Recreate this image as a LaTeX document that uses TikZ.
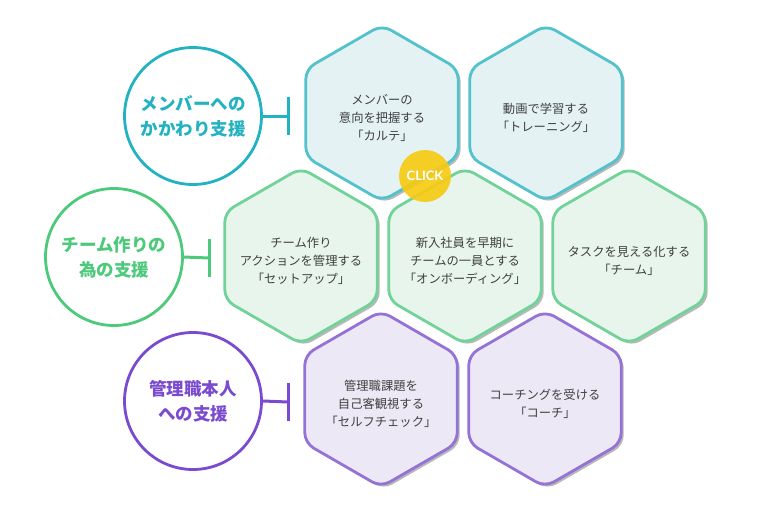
\documentclass[tikz,border=0pt]{standalone}
\usepackage{fontspec}
\newfontfamily\jp{Noto Sans CJK JP}
\newfontfamily\clickfont{Lato}
\usetikzlibrary{shapes.geometric,shadows}
\definecolor{tealC}{HTML}{22B2C1}
\definecolor{tealH}{HTML}{52C2CC}
\definecolor{tealF}{HTML}{E4F2F4}
\definecolor{greenC}{HTML}{4CC97A}
\definecolor{greenH}{HTML}{72D39A}
\definecolor{greenF}{HTML}{E8F5EC}
\definecolor{purpC}{HTML}{7A4BCF}
\definecolor{purpH}{HTML}{9472D6}
\definecolor{purpF}{HTML}{ECE8F5}
\definecolor{txtgray}{HTML}{404040}
\definecolor{clickY}{HTML}{F6CB14}
\begin{document}
\begin{tikzpicture}[x=1pt,y=-1pt,
  hexbase/.style={regular polygon, regular polygon sides=6, shape border rotate=30,
    minimum size=176pt, inner sep=0pt, line width=2.8pt, rounded corners=10pt,
    drop shadow={shadow xshift=2.5pt, shadow yshift=-2.5pt, fill=black, opacity=0.28}},
  hexlabel/.style={align=center, text=txtgray, inner sep=0pt, yshift=-5pt,
    font=\jp\fontsize{12.3}{18}\selectfont},
  hexT/.style={hexbase, draw=tealH, fill=tealF},
  hexG/.style={hexbase, draw=greenH, fill=greenF},
  hexP/.style={hexbase, draw=purpH, fill=purpF},
  catcirc/.style={circle, minimum size=137pt, inner sep=0pt, line width=2.8pt, fill=white,
    align=center, font=\jp\bfseries\fontsize{17.5}{25}\selectfont},
  conn/.style={line width=3pt},
  clickbadge/.style={circle, minimum size=52pt, inner sep=0pt, fill=clickY, fill opacity=0.92,
    text opacity=1, text=white, font=\clickfont\bfseries\fontsize{13}{15}\selectfont}
]
\useasboundingbox (0,0) rectangle (759,524);

% hexagons row 1
\node[hexT, label={[hexlabel]center:メンバーの\\意向を把握する\\「カルテ」}] (h11) at (382,113) {};
\node[hexT, label={[hexlabel]center:動画で学習する\\「トレーニング」}] (h12) at (546,113) {};
% row 2
\node[hexG, label={[hexlabel]center:チーム作り\\アクションを管理する\\「セットアップ」}] (h21) at (301,256) {};
\node[hexG, label={[hexlabel]center:新入社員を早期に\\チームの一員とする\\「オンボーディング」}] (h22) at (465,256) {};
\node[hexG, label={[hexlabel]center:タスクを見える化する\\「チーム」}] (h23) at (629,256) {};
% row 3
\node[hexP, label={[hexlabel]center:管理職課題を\\自己客観視する\\「セルフチェック」}] (h31) at (381,399) {};
\node[hexP, label={[hexlabel]center:コーチングを受ける\\「コーチ」}] (h32) at (545,399) {};

% click badge
\node[clickbadge] (click) at (425,176) {CLICK};

% category circles
\node[catcirc, draw=tealC, text=tealC] (c1) at (193,116) {メンバーへの\\かかわり支援};
\node[catcirc, draw=greenC, text=greenC] (c2) at (114,257) {チーム作りの\\為の支援};
\node[catcirc, draw=purpC, text=purpC] (c3) at (193,401) {管理職本人\\への支援};

% connectors
\coordinate (b1) at (288,116);
\coordinate (b2) at (209,258);
\coordinate (b3) at (288,402);
\draw[conn, tealC] (c1.east) -- (b1);
\draw[conn, tealC] ([yshift=19pt]b1) -- ([yshift=-19pt]b1);
\draw[conn, greenC] (c2.east) -- (b2);
\draw[conn, greenC] ([yshift=19pt]b2) -- ([yshift=-19pt]b2);
\draw[conn, purpC] (c3.east) -- (b3);
\draw[conn, purpC] ([yshift=19pt]b3) -- ([yshift=-19pt]b3);
\end{tikzpicture}
\end{document}
